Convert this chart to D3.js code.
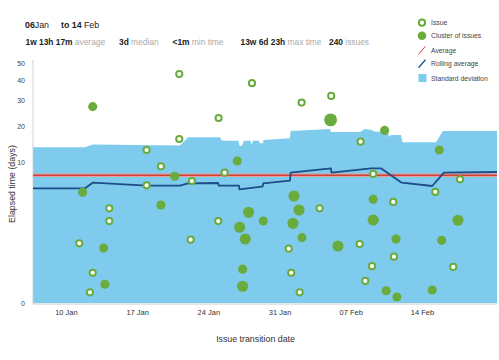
<!DOCTYPE html>
<html>
<head>
<meta charset="utf-8">
<script src="https://cdn.jsdelivr.net/npm/d3@7/dist/d3.min.js"></script>
<style>
  html, body { margin: 0; padding: 0; background: #fff; }
  svg { display: block; font-family: "Liberation Sans", Arial, Helvetica, sans-serif; }
</style>
</head>
<body>
<svg id="chart" width="499" height="360"></svg>
<script>
// ---------- DATA (x = day of year 2025, 10 = 10 Jan; y = elapsed days) ----------
const xDomainDays = [6.76, 52.38];
const xTickDays = [10, 17, 24, 31, 38, 45];
const yTicks = [0, 10, 20, 30, 40, 50];
const averageDays = 7.553; // 1w 13h 17m

const issueDays = [17.93, 17.93, 14.26, 14.26, 11.31, 12.63, 12.36, 21.14, 28.29, 25.01, 21.14, 19.34, 25.60, 22.39, 24.97, 22.26,
                   33.17, 36.08, 38.97, 40.21, 34.94, 31.90, 38.88, 40.09, 32.15, 39.43, 32.98, 48.74, 46.31, 42.18, 42.25, 48.08];
const issueElapsed = [12.95, 5.90, 3.07, 1.99, 0.77, 0.10, 0.0044, 43.4, 38.4, 22.9, 15.95, 9.24, 8.00, 6.57, 1.99, 0.92,
                      29.1, 32.1, 15.2, 7.77, 3.07, 0.58, 0.74, 0.18, 0.10, 0.039, 0.0044, 6.85, 4.95, 3.73, 0.36, 0.17];

const clusterDays = [12.63, 11.64, 13.71, 13.83, 26.84, 20.69, 19.34, 27.96, 27.08, 27.63, 27.37, 27.37, 36.02, 32.42, 32.91,
                     32.32, 33.20, 29.40, 36.74, 40.21, 40.21, 41.33, 46.70, 48.54, 42.45, 46.94, 41.49, 42.54, 46.01];
const clusterElapsed = [27.4, 4.91, 0.60, 0.024, 10.36, 7.36, 3.40, 2.70, 1.57, 0.95, 0.14, 0.017, 22.2, 4.43, 2.91,
                        1.83, 1.01, 1.99, 0.67, 4.03, 2.07, 18.6, 12.95, 2.05, 0.95, 0.89, 0.0067, 0.00078, 0.008];
const clusterCount = [2, 2, 2, 2, 2, 2, 2, 3, 3, 3, 2, 3, 4, 3, 3,
                      3, 2, 2, 3, 2, 3, 2, 2, 3, 2, 2, 2, 2, 2];

const rollingDays = [6.76, 11.87, 12.63, 17.93, 21.21, 22.00, 24.94, 25.04, 27.01, 27.06, 29.24, 29.34, 29.40, 32.02, 32.09,
                     36.05, 36.12, 39.99, 40.97, 43.01, 46.01, 47.16, 52.38];
const rollingAvg = [5.46, 5.46, 6.30, 5.84, 5.84, 6.20, 6.25, 5.84, 5.84, 5.32, 5.69, 5.69, 6.20, 6.62, 8.00,
                    8.84, 8.00, 8.84, 8.84, 6.30, 5.79, 8.00, 8.13];

const stdDays = [6.76, 11.87, 12.65, 21.21, 22.00, 25.14, 25.34, 26.96, 27.06, 27.30, 27.50, 28.14, 28.24, 28.39, 28.98,
                 29.07, 29.37, 29.42, 32.02, 32.09, 35.96, 36.05, 38.91, 39.40, 40.06, 40.38, 41.66, 41.76, 41.95, 42.94,
                 43.08, 46.38, 47.07, 52.38];
const stdUpper = [13.65, 13.65, 14.40, 14.13, 16.45, 16.45, 15.46, 15.46, 14.08, 14.08, 15.46, 15.46, 14.27, 15.46, 15.46,
                  14.73, 14.73, 15.66, 16.16, 18.40, 19.05, 18.09, 18.09, 19.05, 18.73, 18.18, 18.18, 16.55, 17.15, 17.15,
                  15.01, 15.01, 18.40, 18.40];

const legendItems = ["Issue", "Cluster of issues", "Average", "Rolling average", "Standard deviation"];

// ---------- SETUP ----------
const toDate = d => new Date(new Date(2025, 0, 1).getTime() + (d - 1) * 864e5);
const svg = d3.select("#chart");
const mLeft = 33, mRight = 497, mBottom = 303, mTop = 63;

const x = d3.scaleTime().domain(xDomainDays.map(toDate)).range([mLeft, mRight]);
const y = d3.scalePow().exponent(1 / 3).domain([0, 50]).range([mBottom, mTop]);
const r = d3.scaleSqrt().domain([0, 5]).range([0, 7.2]);

const blue = "#7ecbed", green = "#6aab3d", red = "#cf4239", navy = "#1e4c86";

// ---------- STANDARD DEVIATION AREA ----------
const stdData = stdDays.map((d, i) => ({ d, v: stdUpper[i] }));
svg.append("path")
  .datum(stdData)
  .attr("fill", blue)
  .attr("d", d3.area().x(p => x(toDate(p.d))).y0(y(0)).y1(p => y(p.v)));

// ---------- AXES ----------
svg.append("line").attr("x1", mLeft).attr("x2", mLeft).attr("y1", 60).attr("y2", mBottom + 1)
  .attr("stroke", "#d0d0d0").attr("stroke-width", 1);
svg.append("line").attr("x1", mLeft).attr("x2", mRight).attr("y1", mBottom + 1).attr("y2", mBottom + 1)
  .attr("stroke", "#dcdcdc").attr("stroke-width", 1.5);

const xAxis = d3.axisBottom(x).tickValues(xTickDays.map(toDate)).tickFormat(d3.timeFormat("%d %b")).tickSize(0).tickPadding(6);
const gx = svg.append("g").attr("transform", `translate(0,${mBottom + 1})`).call(xAxis);
gx.select(".domain").remove();
gx.selectAll("text").attr("font-size", 7.5).attr("fill", "#333").attr("font-family", "Liberation Sans, Arial, sans-serif");

const yAxis = d3.axisLeft(y).tickValues(yTicks).tickFormat(d3.format("d")).tickSize(0).tickPadding(8);
const gy = svg.append("g").attr("transform", `translate(${mLeft},0)`).call(yAxis);
gy.select(".domain").remove();
gy.selectAll("text").attr("font-size", 7).attr("fill", "#444").attr("font-family", "Liberation Sans, Arial, sans-serif");

// ---------- AVERAGE LINE ----------
svg.append("line").attr("x1", mLeft).attr("x2", mRight).attr("y1", y(averageDays)).attr("y2", y(averageDays))
  .attr("stroke", "#e89d96").attr("stroke-width", 3.4);
svg.append("line").attr("x1", mLeft).attr("x2", mRight).attr("y1", y(averageDays)).attr("y2", y(averageDays))
  .attr("stroke", red).attr("stroke-width", 1.5);

// ---------- ROLLING AVERAGE ----------
const rollData = rollingDays.map((d, i) => ({ d, v: rollingAvg[i] }));
svg.append("path").datum(rollData)
  .attr("fill", "none").attr("stroke", navy).attr("stroke-width", 1.8).attr("stroke-linejoin", "round")
  .attr("d", d3.line().x(p => x(toDate(p.d))).y(p => y(p.v)));

// ---------- CLUSTERS ----------
svg.append("g").selectAll("circle")
  .data(clusterDays.map((d, i) => ({ d, v: clusterElapsed[i], c: clusterCount[i] })))
  .join("circle")
  .attr("cx", p => x(toDate(p.d))).attr("cy", p => y(p.v)).attr("r", p => r(p.c))
  .attr("fill", green);

// ---------- ISSUES ----------
svg.append("g").selectAll("circle")
  .data(issueDays.map((d, i) => ({ d, v: issueElapsed[i] })))
  .join("circle")
  .attr("cx", p => x(toDate(p.d))).attr("cy", p => y(p.v)).attr("r", 3.1)
  .attr("fill", "#fff").attr("stroke", green).attr("stroke-width", 2);

// ---------- AXIS TITLES ----------
svg.append("text").attr("x", 255.5).attr("y", 342).attr("text-anchor", "middle")
  .attr("font-size", 8.8).attr("fill", "#333").text("Issue transition date");
svg.append("text").attr("transform", `translate(15,${184}) rotate(-90)`).attr("text-anchor", "middle")
  .attr("font-size", 8.8).attr("fill", "#333").text("Elapsed time (days)");

// ---------- TITLE ----------
const title = svg.append("text").attr("x", 25).attr("y", 28).attr("font-size", 8.8).attr("fill", "#222");
title.append("tspan").attr("font-weight", "bold").text("06");
title.append("tspan").text("Jan");
title.append("tspan").attr("x", 61).attr("font-weight", "bold").text("to 14");
title.append("tspan").text(" Feb");

const stats = [
  { v: "1w 13h 17m", l: " average", x: 25.5 },
  { v: "3d", l: " median", x: 119 },
  { v: "<1m", l: " min time", x: 172.5 },
  { v: "13w 6d 23h", l: " max time", x: 240.5 },
  { v: "240", l: " issues", x: 329 }
];
stats.forEach(s => {
  const t = svg.append("text").attr("x", s.x).attr("y", 45).attr("font-size", 8.4);
  t.append("tspan").attr("font-weight", "bold").attr("fill", "#222").text(s.v);
  t.append("tspan").attr("fill", "#aaa").text(s.l);
});

// ---------- LEGEND ----------
const lg = svg.append("g").attr("font-size", 6.8).attr("fill", "#444");
const ly = [22.7, 35.7, 50.3, 63.7, 78];
lg.append("circle").attr("cx", 422).attr("cy", ly[0]).attr("r", 3.1).attr("fill", "#fff").attr("stroke", green).attr("stroke-width", 2);
lg.append("circle").attr("cx", 422).attr("cy", ly[1]).attr("r", 4.3).attr("fill", green);
lg.append("line").attr("x1", 418.5).attr("y1", ly[2] + 4).attr("x2", 425.5).attr("y2", ly[2] - 4).attr("stroke", red).attr("stroke-width", 1);
lg.append("line").attr("x1", 418.5).attr("y1", ly[3] + 4).attr("x2", 425.5).attr("y2", ly[3] - 4).attr("stroke", navy).attr("stroke-width", 1.3);
lg.append("rect").attr("x", 418.5).attr("y", ly[4] - 4).attr("width", 8).attr("height", 8).attr("fill", blue);
legendItems.forEach((name, i) => {
  lg.append("text").attr("x", 431).attr("y", ly[i] + 2.5).text(name);
});
</script>
</body>
</html>
